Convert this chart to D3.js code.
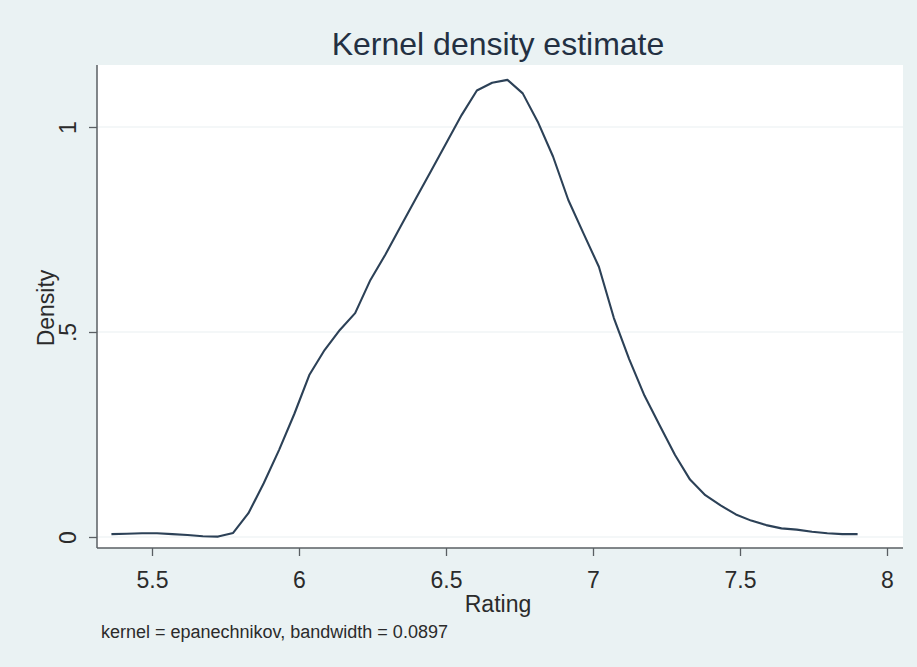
<!DOCTYPE html>
<html>
<head>
<meta charset="utf-8">
<script src="https://cdn.jsdelivr.net/npm/d3@7"></script>
<style>
  html, body { margin: 0; padding: 0; background: #eaf2f3; }
  svg { display: block; }
  text { font-family: "Liberation Sans", Arial, sans-serif; }
</style>
</head>
<body>
<svg id="chart" width="917" height="667"></svg>
<script>
// ---- data ----
const ratingPoints = [
  5.362, 5.414, 5.466, 5.517, 5.569, 5.621, 5.673, 5.725, 5.776, 5.828,
  5.880, 5.932, 5.984, 6.035, 6.087, 6.139, 6.191, 6.243, 6.294, 6.346,
  6.398, 6.450, 6.502, 6.553, 6.605, 6.657, 6.709, 6.761, 6.812, 6.864,
  6.916, 6.968, 7.020, 7.071, 7.123, 7.175, 7.227, 7.279, 7.330, 7.382,
  7.434, 7.486, 7.538, 7.589, 7.641, 7.693, 7.745, 7.797, 7.848, 7.900
];
const densityValues = [
  0.007, 0.008, 0.009, 0.009, 0.007, 0.005, 0.002, 0.001, 0.010, 0.058,
  0.131, 0.212, 0.300, 0.395, 0.456, 0.505, 0.546, 0.627, 0.689, 0.758,
  0.826, 0.894, 0.962, 1.029, 1.089, 1.108, 1.115, 1.082, 1.013, 0.928,
  0.822, 0.740, 0.659, 0.534, 0.434, 0.345, 0.272, 0.200, 0.140, 0.102,
  0.077, 0.055, 0.040, 0.029, 0.021, 0.018, 0.013, 0.009, 0.007, 0.007
];
const xTickValues = [5.5, 6, 6.5, 7, 7.5, 8];
const xTickLabels = ["5.5", "6", "6.5", "7", "7.5", "8"];
const yTickValues = [0, 0.5, 1];
const yTickLabels = ["0", ".5", "1"];
const titleText = "Kernel density estimate";
const xAxisTitle = "Rating";
const yAxisTitle = "Density";
const noteText = "kernel = epanechnikov, bandwidth = 0.0897";

// ---- layout ----
const plot = { left: 97, right: 903, top: 65, bottom: 548 };
const svg = d3.select("#chart");

const x = d3.scaleLinear().domain([5.5, 8]).range([152, 887]);
const y = d3.scaleLinear().domain([0, 1]).range([537, 127]);

// plot region
svg.append("rect")
  .attr("x", plot.left).attr("y", plot.top)
  .attr("width", plot.right - plot.left).attr("height", plot.bottom - plot.top)
  .attr("fill", "#ffffff");

// gridlines
svg.append("g").selectAll("line")
  .data(yTickValues)
  .join("line")
  .attr("x1", plot.left).attr("x2", plot.right)
  .attr("y1", d => y(d)).attr("y2", d => y(d))
  .attr("stroke", "#eaf0f1").attr("stroke-width", 1.2);

// density curve
const line = d3.line()
  .x((d, i) => x(ratingPoints[i]))
  .y(d => y(d));
svg.append("path")
  .datum(densityValues)
  .attr("d", line)
  .attr("fill", "none")
  .attr("stroke", "#2c4157")
  .attr("stroke-width", 2.1)
  .attr("stroke-linejoin", "round");

// x axis
const xAxis = d3.axisBottom(x)
  .tickValues(xTickValues)
  .tickFormat((d, i) => xTickLabels[i])
  .tickSize(8)
  .tickSizeOuter(0);
const gx = svg.append("g")
  .attr("transform", `translate(0,${plot.bottom})`)
  .call(xAxis);
gx.select(".domain").remove();
gx.selectAll(".tick line").attr("stroke", "#5a5f63").attr("stroke-width", 1.3);
gx.selectAll(".tick text")
  .attr("y", 40).attr("dy", 0)
  .attr("font-size", 23)
  .attr("fill", "#2b2b2b");
svg.append("line")
  .attr("x1", plot.left).attr("x2", plot.right)
  .attr("y1", plot.bottom).attr("y2", plot.bottom)
  .attr("stroke", "#5a5f63").attr("stroke-width", 1.5);

// y axis
const yAxis = d3.axisLeft(y)
  .tickValues(yTickValues)
  .tickFormat((d, i) => yTickLabels[i])
  .tickSize(8)
  .tickSizeOuter(0);
const gy = svg.append("g")
  .attr("transform", `translate(${plot.left},0)`)
  .call(yAxis);
gy.select(".domain").remove();
gy.selectAll(".tick line").attr("stroke", "#5a5f63").attr("stroke-width", 1.3);
gy.selectAll(".tick text")
  .attr("x", 0).attr("y", 0).attr("dy", 0)
  .attr("text-anchor", "middle")
  .attr("transform", "translate(-21,0) rotate(-90)")
  .attr("font-size", 23)
  .attr("fill", "#2b2b2b");
svg.append("line")
  .attr("x1", plot.left).attr("x2", plot.left)
  .attr("y1", plot.top).attr("y2", plot.bottom)
  .attr("stroke", "#5a5f63").attr("stroke-width", 1.5);

// titles
svg.append("text")
  .attr("x", 498).attr("y", 55)
  .attr("text-anchor", "middle")
  .attr("font-size", 32)
  .attr("fill", "#233042")
  .text(titleText);

svg.append("text")
  .attr("x", 498).attr("y", 612)
  .attr("text-anchor", "middle")
  .attr("font-size", 23)
  .attr("fill", "#2b2b2b")
  .text(xAxisTitle);

svg.append("text")
  .attr("transform", "translate(54,308) rotate(-90)")
  .attr("text-anchor", "middle")
  .attr("font-size", 23)
  .attr("fill", "#2b2b2b")
  .text(yAxisTitle);

svg.append("text")
  .attr("x", 101).attr("y", 638)
  .attr("font-size", 18)
  .attr("fill", "#2b2b2b")
  .text(noteText);
</script>
</body>
</html>
